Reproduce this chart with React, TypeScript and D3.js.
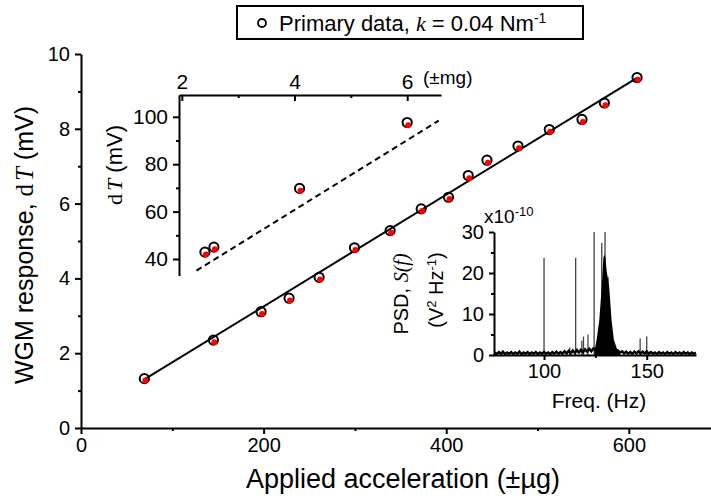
import React, { useEffect, useRef } from 'react';
import * as d3 from 'd3';

// main plot: applied acceleration (µg) vs WGM response dT (mV)
const accel = [69.4, 145, 197.2, 227.9, 260.8, 299.5, 338.6, 372.6, 402.5, 424.1, 444.6, 478.6, 512.9, 548.7, 573.2, 609];
const response = [1.32, 2.35, 3.11, 3.47, 4.03, 4.82, 5.28, 5.86, 6.17, 6.75, 7.16, 7.54, 7.98, 8.25, 8.69, 9.37];
const responseRed = [1.27, 2.29, 3.05, 3.41, 3.97, 4.76, 5.22, 5.80, 6.12, 6.68, 7.09, 7.48, 7.92, 8.18, 8.63, 9.31];
const fitAccel = [69.4, 609];
const fitResp = [1.30, 9.36];

// inset: acceleration (mg) vs dT (mV)
const insetAcc = [2.41, 2.57, 4.09, 6.0];
const insetDT = [42.9, 45.0, 69.8, 97.6];
const insetDTRed = [41.9, 44.1, 68.8, 96.4];
const dashAcc = [2.26, 6.56];
const dashDT = [35.1, 98.4];

// PSD inset: baseline noise, spikes and the resonance peak
const baseFreq = [76, 77, 78, 79, 80, 81, 82, 83, 84, 85, 86, 87, 88, 89, 90, 91, 92, 93, 94, 95, 96, 97, 98, 99, 100, 101, 102, 103, 104, 105, 106, 107, 108, 109, 110, 111, 112, 113, 114, 115, 116, 117, 118, 119, 120, 121, 122, 123, 124, 125, 126, 127, 128, 129, 130, 131, 132, 133, 134, 135, 136, 137, 138, 139, 140, 141, 142, 143, 144, 145, 146, 147, 148, 149, 150, 151, 152, 153, 154, 155, 156, 157, 158, 159, 160, 161, 162, 163, 164, 165, 166, 167, 168, 169, 170, 171, 172, 173, 174];
const baseVal = [0.6, 0.2, 0.7, 0.3, 0.8, 0.2, 0.6, 0.3, 0.7, 0.2, 0.6, 0.3, 0.8, 0.2, 0.6, 0.3, 0.7, 0.2, 0.6, 0.3, 0.7, 0.2, 0.6, 0.3, 0.8, 0.3, 0.6, 0.2, 0.7, 0.3, 0.8, 0.3, 0.7, 0.3, 0.9, 0.4, 1.0, 0.4, 1.1, 0.5, 1.2, 0.6, 1.3, 0.7, 1.4, 0.8, 1.5, 0.9, 1.6, 1.2, 1.8, 1.6, 2.0, 2.0, 2.0, 1.8, 1.6, 1.4, 1.2, 1.0, 1.1, 0.6, 0.9, 0.4, 0.8, 0.3, 0.7, 0.3, 0.8, 0.4, 0.9, 0.3, 0.8, 0.4, 0.9, 0.3, 0.7, 0.3, 0.6, 0.2, 0.7, 0.3, 0.6, 0.2, 0.7, 0.3, 0.6, 0.2, 0.7, 0.3, 0.6, 0.2, 0.7, 0.3, 0.6, 0.2, 0.6, 0.3, 0.5];
const spikeFreq = [100.0, 112.5, 115.4, 118.4, 119.2, 121.4, 124.4, 128.1, 129.7, 131.2, 146.8, 150.0];
const spikeVal = [23.7, 1.8, 23.7, 3.5, 4.5, 5.0, 30, 27.3, 30, 19, 4.0, 4.5];
const peakFreq = [124.5, 125.6, 126.9, 128.1, 128.9, 129.4, 129.9, 130.5, 131.7, 132.9, 134, 135.5, 137];
const peakVal = [0.8, 3.7, 8.5, 16.7, 23.7, 24.5, 23.7, 20.5, 16.7, 8.5, 3.7, 1.5, 0.8];

const sans = "'Liberation Sans', Arial, sans-serif";
const serif = "'Liberation Serif', 'Times New Roman', serif";

function styleAxis(g: any, size: number) {
  g.selectAll('path').attr('stroke', '#000').attr('stroke-width', 2);
  g.selectAll('line').attr('stroke', '#000').attr('stroke-width', 2);
  g.selectAll('text').attr('font-family', sans).attr('font-size', size).attr('fill', '#000');
}

function App() {
  const ref = useRef<SVGSVGElement>(null);

  useEffect(() => {
    const svg = d3.select(ref.current);
    svg.selectAll('*').remove();

    // ---- main plot
    const x = d3.scaleLinear().domain([0, 690]).range([81, 711]);
    const y = d3.scaleLinear().domain([0, 10]).range([428, 54]);

    const gx = svg.append('g').attr('transform', 'translate(0,428)');
    gx.call(d3.axisBottom(x).tickValues([0, 200, 400, 600]).tickSize(6).tickSizeOuter(0).tickPadding(4));
    styleAxis(gx, 20);
    const gxm = svg.append('g').attr('transform', 'translate(0,428)');
    gxm.call(d3.axisBottom(x).tickValues([100, 300, 500]).tickSize(3).tickFormat(() => ''));
    gxm.select('.domain').remove();
    styleAxis(gxm, 20);

    const gy = svg.append('g').attr('transform', 'translate(81,0)');
    gy.call(d3.axisLeft(y).tickValues([0, 2, 4, 6, 8, 10]).tickSize(6).tickSizeOuter(0).tickPadding(5));
    styleAxis(gy, 20);
    const gym = svg.append('g').attr('transform', 'translate(81,0)');
    gym.call(d3.axisLeft(y).tickValues([1, 3, 5, 7, 9]).tickSize(3).tickFormat(() => ''));
    gym.select('.domain').remove();
    styleAxis(gym, 20);

    svg.append('text')
      .attr('x', 403).attr('y', 488)
      .attr('text-anchor', 'middle')
      .attr('font-family', sans).attr('font-size', 27)
      .text('Applied acceleration (±µg)');

    const yl = svg.append('text')
      .attr('transform', 'translate(33,245) rotate(-90)')
      .attr('text-anchor', 'middle')
      .attr('font-family', sans).attr('font-size', 25);
    yl.append('tspan').text('WGM response, ');
    yl.append('tspan').attr('font-family', serif).text('d');
    yl.append('tspan').attr('font-family', serif).attr('font-style', 'italic').attr('dx', 3).text('T');
    yl.append('tspan').text(' (mV)');

    const fitLine = d3.line<number>().x((d, i) => x(fitAccel[i])).y(d => y(d));
    svg.append('path').attr('d', fitLine(fitResp)).attr('fill', 'none').attr('stroke', '#000').attr('stroke-width', 2);

    svg.append('g').selectAll('circle').data(accel).join('circle')
      .attr('cx', d => x(d)).attr('cy', (d, i) => y(response[i])).attr('r', 4.6)
      .attr('fill', 'none').attr('stroke', '#000').attr('stroke-width', 2);
    svg.append('g').selectAll('circle').data(accel).join('circle')
      .attr('cx', d => x(d) + 1).attr('cy', (d, i) => y(responseRed[i])).attr('r', 3)
      .attr('fill', '#ff0000');

    // ---- inset (mg)
    const ix = d3.scaleLinear().domain([1.95, 6.6]).range([179, 441]);
    const iy = d3.scaleLinear().domain([33, 109.2]).range([275.6, 95]);

    const gix = svg.append('g').attr('transform', 'translate(0,95)');
    gix.call(d3.axisTop(ix).tickValues([2, 4, 6]).tickFormat(d3.format('d')).tickSize(-6).tickSizeOuter(0).tickPadding(6));
    styleAxis(gix, 21);
    const gixm = svg.append('g').attr('transform', 'translate(0,95)');
    gixm.call(d3.axisTop(ix).tickValues([3, 5]).tickSize(-3).tickFormat(() => ''));
    gixm.select('.domain').remove();
    styleAxis(gixm, 21);
    svg.append('text').attr('x', 423).attr('y', 84)
      .attr('font-family', sans).attr('font-size', 19).text('(±mg)');

    const giy = svg.append('g').attr('transform', 'translate(179,0)');
    giy.call(d3.axisLeft(iy).tickValues([40, 60, 80, 100]).tickSize(6).tickSizeOuter(0).tickPadding(5));
    styleAxis(giy, 21);
    const giym = svg.append('g').attr('transform', 'translate(179,0)');
    giym.call(d3.axisLeft(iy).tickValues([50, 70, 90]).tickSize(3).tickFormat(() => ''));
    giym.select('.domain').remove();
    styleAxis(giym, 21);

    const il = svg.append('text')
      .attr('transform', 'translate(122,165) rotate(-90)')
      .attr('text-anchor', 'middle')
      .attr('font-family', sans).attr('font-size', 22);
    il.append('tspan').attr('font-family', serif).text('d');
    il.append('tspan').attr('font-family', serif).attr('font-style', 'italic').attr('dx', 3).text('T');
    il.append('tspan').text(' (mV)');

    const dashLine = d3.line<number>().x((d, i) => ix(dashAcc[i])).y(d => iy(d));
    svg.append('path').attr('d', dashLine(dashDT)).attr('fill', 'none')
      .attr('stroke', '#000').attr('stroke-width', 2).attr('stroke-dasharray', '6,4');

    svg.append('g').selectAll('circle').data(insetAcc).join('circle')
      .attr('cx', d => ix(d)).attr('cy', (d, i) => iy(insetDT[i])).attr('r', 4.6)
      .attr('fill', 'none').attr('stroke', '#000').attr('stroke-width', 2);
    svg.append('g').selectAll('circle').data(insetAcc).join('circle')
      .attr('cx', d => ix(d) + 1).attr('cy', (d, i) => iy(insetDTRed[i])).attr('r', 3)
      .attr('fill', '#ff0000');

    // ---- PSD inset
    const px = d3.scaleLinear().domain([75, 174]).range([492.7, 696]);
    const py = d3.scaleLinear().domain([0, 30]).range([355, 232]);

    svg.append('g').selectAll('line').data(spikeFreq).join('line')
      .attr('x1', d => px(d)).attr('x2', d => px(d))
      .attr('y1', py(0)).attr('y2', (d, i) => py(spikeVal[i]))
      .attr('stroke', '#444').attr('stroke-width', 1.3);

    const peakArea = d3.area<number>().x((d, i) => px(peakFreq[i])).y0(py(0)).y1(d => py(d));
    svg.append('path').attr('d', peakArea(peakVal)).attr('fill', '#000');

    const baseLine = d3.line<number>().x((d, i) => px(baseFreq[i])).y(d => py(d));
    svg.append('path').attr('d', baseLine(baseVal)).attr('fill', 'none')
      .attr('stroke', '#000').attr('stroke-width', 2.5);

    const gpx = svg.append('g').attr('transform', 'translate(0,355)');
    gpx.call(d3.axisBottom(px).tickValues([100, 150]).tickSize(5).tickSizeOuter(0).tickPadding(4));
    styleAxis(gpx, 20);
    const gpxm = svg.append('g').attr('transform', 'translate(0,355)');
    gpxm.call(d3.axisBottom(px).tickValues([125]).tickSize(3).tickFormat(() => ''));
    gpxm.select('.domain').remove();
    styleAxis(gpxm, 20);

    const gpy = svg.append('g').attr('transform', 'translate(494,0)');
    gpy.call(d3.axisLeft(py).tickValues([0, 10, 20, 30]).tickSize(5).tickSizeOuter(0).tickPadding(5));
    styleAxis(gpy, 20);
    const gpym = svg.append('g').attr('transform', 'translate(494,0)');
    gpym.call(d3.axisLeft(py).tickValues([5, 15, 25]).tickSize(3).tickFormat(() => ''));
    gpym.select('.domain').remove();
    styleAxis(gpym, 20);

    const sci = svg.append('text').attr('x', 484).attr('y', 223)
      .attr('font-family', sans).attr('font-size', 19);
    sci.append('tspan').text('x10');
    sci.append('tspan').attr('dy', -7).attr('font-size', 13).text('-10');

    svg.append('text').attr('x', 599).attr('y', 408)
      .attr('text-anchor', 'middle')
      .attr('font-family', sans).attr('font-size', 21).text('Freq. (Hz)');

    const pl1 = svg.append('text')
      .attr('transform', 'translate(408,294) rotate(-90)')
      .attr('text-anchor', 'middle')
      .attr('font-family', sans).attr('font-size', 20);
    pl1.append('tspan').text('PSD, ');
    pl1.append('tspan').attr('font-family', serif).attr('font-style', 'italic').text('S(f)');

    const pl2 = svg.append('text')
      .attr('transform', 'translate(443,290) rotate(-90)')
      .attr('text-anchor', 'middle')
      .attr('font-family', sans).attr('font-size', 20);
    pl2.append('tspan').text('(V');
    pl2.append('tspan').attr('dy', -7).attr('font-size', 13).text('2');
    pl2.append('tspan').attr('dy', 7).text(' Hz');
    pl2.append('tspan').attr('dy', -7).attr('font-size', 13).text('-1');
    pl2.append('tspan').attr('dy', 7).text(')');

    // ---- legend
    svg.append('rect').attr('x', 237).attr('y', 6).attr('width', 346).attr('height', 33)
      .attr('fill', '#fff').attr('stroke', '#000').attr('stroke-width', 2);
    svg.append('circle').attr('cx', 262).attr('cy', 23).attr('r', 4)
      .attr('fill', 'none').attr('stroke', '#000').attr('stroke-width', 1.8);
    const lt = svg.append('text').attr('x', 279).attr('y', 31)
      .attr('font-family', sans).attr('font-size', 22);
    lt.append('tspan').text('Primary data, ');
    lt.append('tspan').attr('font-family', serif).attr('font-style', 'italic').text('k');
    lt.append('tspan').text(' = 0.04 Nm');
    lt.append('tspan').attr('dy', -8).attr('font-size', 14).text('-1');
  }, []);

  return (
    <svg ref={ref} width={711} height={498}
      style={{ position: 'absolute', left: 0, top: 0, background: '#fff' }} />
  );
}

export default App;
